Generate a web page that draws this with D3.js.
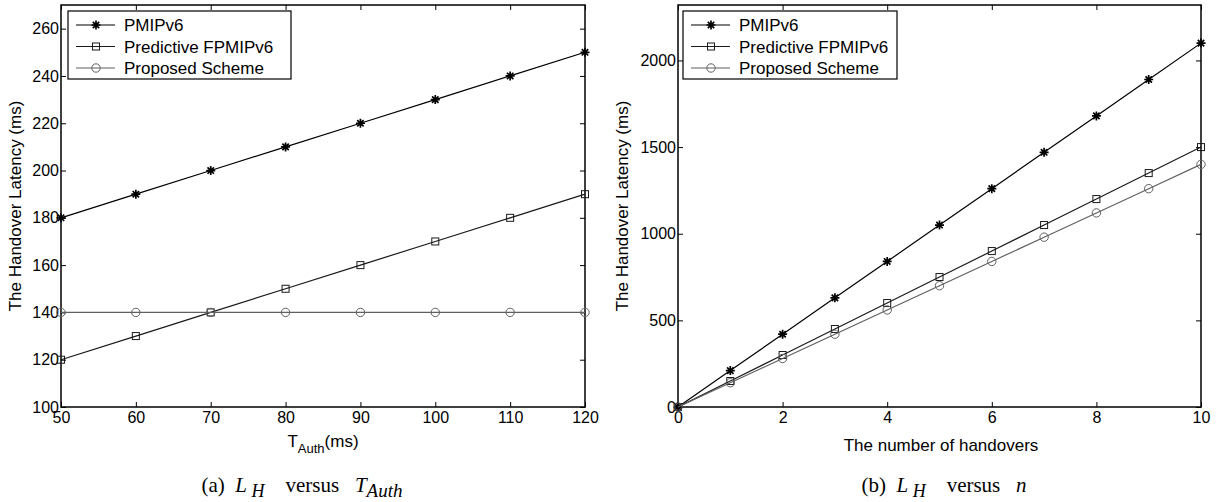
<!DOCTYPE html>
<html>
<head>
	<meta charset="utf-8">
	<script src="https://d3js.org/d3.v7.min.js"></script>
	<style type="text/css">
		body { margin:0; background:#fff; }
		text { font-family: Arial, "Liberation Sans", sans-serif; }
		.cap { font-family: "Times New Roman", "Liberation Serif", serif; }
	</style>
</head>
<body>
<script>
// series names + colours
var seriesNames = ["PMIPv6", "Predictive FPMIPv6", "Proposed Scheme"];
var seriesColors = ["#000", "#1a1a1a", "#606060"];
var seriesMarkers = ["star", "square", "circle"];

// (a) latency vs T_Auth
var authX = [50, 60, 70, 80, 90, 100, 110, 120];
var authPMIP = [180, 190, 200, 210, 220, 230, 240, 250];
var authPred = [120, 130, 140, 150, 160, 170, 180, 190];
var authProp = [140, 140, 140, 140, 140, 140, 140, 140];
var authXTicks = [50, 60, 70, 80, 90, 100, 110, 120];
var authYTicks = [100, 120, 140, 160, 180, 200, 220, 240, 260];

// (b) latency vs number of handovers
var hoX = [0, 1, 2, 3, 4, 5, 6, 7, 8, 9, 10];
var hoPMIP = [0, 210, 420, 630, 840, 1050, 1260, 1470, 1680, 1890, 2100];
var hoPred = [0, 150, 300, 450, 600, 750, 900, 1050, 1200, 1350, 1500];
var hoProp = [0, 140, 280, 420, 560, 700, 840, 980, 1120, 1260, 1400];
var hoXTicks = [0, 2, 4, 6, 8, 10];
var hoYTicks = [0, 500, 1000, 1500, 2000];

var svg = d3.select("body").append("svg")
	.attr("width", 1216)
	.attr("height", 502);

function marker(g, type, x, y, col) {
	if (type == "star") {
		var s = 4.5;
		var p = "M" + (x - s) + "," + y + "L" + (x + s) + "," + y +
			"M" + x + "," + (y - s) + "L" + x + "," + (y + s) +
			"M" + (x - 3.2) + "," + (y - 3.2) + "L" + (x + 3.2) + "," + (y + 3.2) +
			"M" + (x - 3.2) + "," + (y + 3.2) + "L" + (x + 3.2) + "," + (y - 3.2);
		g.append("path").attr("d", p).attr("stroke", col).attr("stroke-width", 1.7);
	} else if (type == "square") {
		g.append("rect").attr("x", x - 3.5).attr("y", y - 3.5)
			.attr("width", 7).attr("height", 7)
			.attr("fill", "none").attr("stroke", col).attr("stroke-width", 1);
	} else {
		g.append("circle").attr("cx", x).attr("cy", y).attr("r", 4.2)
			.attr("fill", "none").attr("stroke", col).attr("stroke-width", 1);
	}
}

function drawPlot(opt) {
	var x = d3.scaleLinear().domain(opt.xDomain).range([opt.left, opt.right]);
	var y = d3.scaleLinear().domain(opt.yDomain).range([opt.bottom, opt.top]);
	var g = svg.append("g");

	// inside ticks on all four sides
	g.append("g").attr("transform", "translate(0," + opt.bottom + ")")
		.call(d3.axisBottom(x).tickValues(opt.xTicks).tickSize(-5).tickPadding(5).tickFormat(d3.format("d")));
	g.append("g").attr("transform", "translate(0," + opt.top + ")")
		.call(d3.axisTop(x).tickValues(opt.xTicks).tickSize(-5).tickFormat(""));
	g.append("g").attr("transform", "translate(" + opt.left + ",0)")
		.call(d3.axisLeft(y).tickValues(opt.yTicks).tickSize(-5).tickPadding(2).tickFormat(d3.format("d")));
	g.append("g").attr("transform", "translate(" + opt.right + ",0)")
		.call(d3.axisRight(y).tickValues(opt.yTicks).tickSize(-5).tickFormat(""));
	g.selectAll(".domain").remove();
	g.selectAll(".tick line").attr("stroke", "#000").attr("stroke-width", 1);
	g.selectAll(".tick text").attr("font-size", 16).attr("fill", "#000")
		.style("font-family", "Arial, 'Liberation Sans', sans-serif");

	g.append("rect").attr("x", opt.left).attr("y", opt.top)
		.attr("width", opt.right - opt.left).attr("height", opt.bottom - opt.top)
		.attr("fill", "none").attr("stroke", "#000").attr("stroke-width", 1.5);

	var line = d3.line().x(function(d) { return x(d[0]); }).y(function(d) { return y(d[1]); });
	opt.series.forEach(function(vals, i) {
		var pts = opt.xs.map(function(v, j) { return [v, vals[j]]; });
		g.append("path").datum(pts).attr("d", line)
			.attr("fill", "none").attr("stroke", seriesColors[i]).attr("stroke-width", 1.2);
		pts.forEach(function(p) {
			marker(g, seriesMarkers[i], x(p[0]), y(p[1]), seriesColors[i]);
		});
	});

	// legend
	var lx = opt.left + opt.legDx, ly = opt.top + 6;
	g.append("rect").attr("x", lx).attr("y", ly).attr("width", opt.legW).attr("height", 68)
		.attr("fill", "#fff").attr("stroke", "#000").attr("stroke-width", 1.2);
	seriesNames.forEach(function(n, i) {
		var yy = ly + 14 + i * 21.5;
		g.append("line").attr("x1", lx + 8).attr("x2", lx + 47).attr("y1", yy).attr("y2", yy)
			.attr("stroke", seriesColors[i]).attr("stroke-width", 1.2);
		marker(g, seriesMarkers[i], lx + 28, yy, seriesColors[i]);
		g.append("text").attr("x", lx + 56).attr("y", yy + 6)
			.attr("font-size", 17).text(n);
	});

	// y label
	g.append("text")
		.attr("transform", "translate(" + opt.yLabX + "," + ((opt.top + opt.bottom) / 2) + ") rotate(-90)")
		.attr("text-anchor", "middle").attr("font-size", 17)
		.text("The Handover Latency (ms)");
	return g;
}

var ga = drawPlot({
	xDomain: [50, 120], yDomain: [100, 270],
	left: 61, right: 585, top: 5, bottom: 407,
	xTicks: authXTicks, yTicks: authYTicks,
	xs: authX, series: [authPMIP, authPred, authProp],
	legDx: 7, legW: 223, yLabX: 21
});
var xl = ga.append("text").attr("x", 323).attr("y", 447).attr("text-anchor", "middle").attr("font-size", 17);
xl.append("tspan").text("T");
xl.append("tspan").attr("dy", 6).attr("font-size", 13).text("Auth");
xl.append("tspan").attr("dy", -6).text("(ms)");

var gb = drawPlot({
	xDomain: [0, 10], yDomain: [0, 2320],
	left: 678, right: 1201, top: 5, bottom: 407,
	xTicks: hoXTicks, yTicks: hoYTicks,
	xs: hoX, series: [hoPMIP, hoPred, hoProp],
	legDx: 5, legW: 214, yLabX: 628
});
gb.append("text").attr("x", 941).attr("y", 451).attr("text-anchor", "middle").attr("font-size", 17)
	.text("The number of handovers");

// captions
var ca = svg.append("text").attr("class", "cap").attr("x", 302).attr("y", 492)
	.attr("text-anchor", "middle").attr("font-size", 21).attr("xml:space", "preserve");
ca.append("tspan").text("(a)  ");
ca.append("tspan").attr("font-style", "italic").text("L");
ca.append("tspan").attr("font-style", "italic").attr("font-size", 18).attr("dy", 5).text(" H");
ca.append("tspan").attr("dy", -5).text("    versus   ");
ca.append("tspan").attr("font-style", "italic").text("T");
ca.append("tspan").attr("font-style", "italic").attr("font-size", 19).attr("dy", 5).text("Auth");

var cb = svg.append("text").attr("class", "cap").attr("x", 944).attr("y", 492)
	.attr("text-anchor", "middle").attr("font-size", 21).attr("xml:space", "preserve");
cb.append("tspan").text("(b)  ");
cb.append("tspan").attr("font-style", "italic").text("L");
cb.append("tspan").attr("font-style", "italic").attr("font-size", 18).attr("dy", 5).text(" H");
cb.append("tspan").attr("dy", -5).text("    versus   ");
cb.append("tspan").attr("font-style", "italic").text("n");
</script>
</body>
</html>
